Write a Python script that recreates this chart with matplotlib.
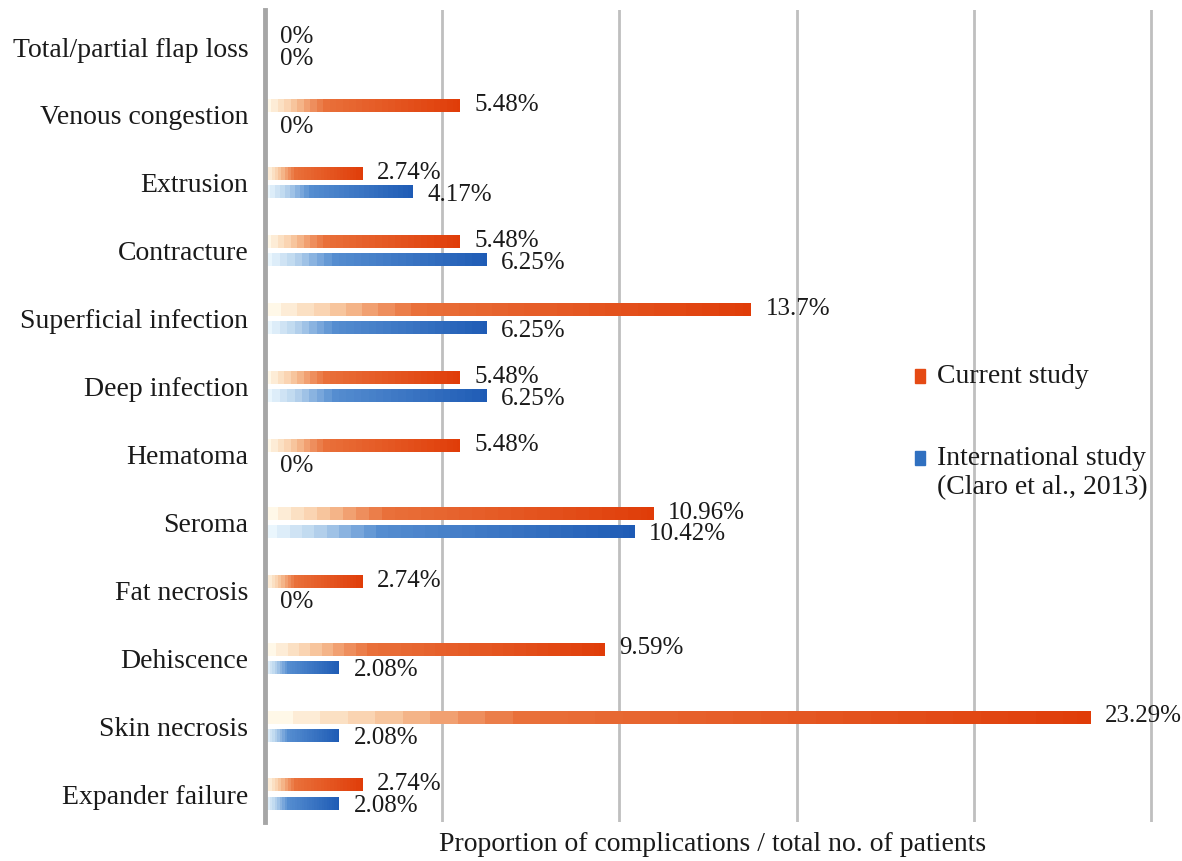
import numpy as np
import matplotlib
matplotlib.use("Agg")
import matplotlib.pyplot as plt
from matplotlib.colors import LinearSegmentedColormap
from matplotlib.patches import Rectangle

plt.rcParams['font.family'] = ['Liberation Serif', 'DejaVu Serif']

# data (top to bottom)
categories = ["Total/partial flap loss", "Venous congestion", "Extrusion", "Contracture",
              "Superficial infection", "Deep infection", "Hematoma", "Seroma",
              "Fat necrosis", "Dehiscence", "Skin necrosis", "Expander failure"]
current = [0, 5.48, 2.74, 5.48, 13.7, 5.48, 5.48, 10.96, 2.74, 9.59, 23.29, 2.74]
international = [0, 0, 4.17, 6.25, 6.25, 6.25, 0, 10.42, 0, 2.08, 2.08, 2.08]
current_labels = ["0%", "5.48%", "2.74%", "5.48%", "13.7%", "5.48%", "5.48%",
                  "10.96%", "2.74%", "9.59%", "23.29%", "2.74%"]
intl_labels = ["0%", "0%", "4.17%", "6.25%", "6.25%", "6.25%", "0%",
               "10.42%", "0%", "2.08%", "2.08%", "2.08%"]

orange_cmap = LinearSegmentedColormap.from_list("org", [
    (0.0, "#FFF8E8"), (0.12, "#F9CDA6"), (0.24, "#EE8A58"),
    (0.3, "#E9703A"), (1.0, "#E03C08")])
blue_cmap = LinearSegmentedColormap.from_list("blu", [
    (0.0, "#EAF6FD"), (0.12, "#BAD5EE"), (0.24, "#73A3DA"),
    (0.3, "#558DD0"), (1.0, "#1E5BB5")])

fig = plt.figure(figsize=(11.82, 8.61), dpi=100)
ax = fig.add_axes([0.2242, 0.0453, 0.757, 0.9431])

n = len(categories)
y = np.arange(n)
h = 0.19
off = 0.135
xmax = 25.25

def grad_bar(yc, val, cmap):
    if val <= 0:
        return
    steps = np.linspace(0, 1, 60)
    steps = np.floor(steps * 30) / 30  # stepped look
    ax.imshow(steps[np.newaxis, :], cmap=cmap, aspect='auto',
              extent=(0, val, yc + h / 2, yc - h / 2), zorder=2,
              interpolation='nearest', vmin=0, vmax=1)

for i in range(n):
    grad_bar(y[i] - off, current[i], orange_cmap)
    grad_bar(y[i] + off, international[i], blue_cmap)
    ax.text(current[i] + 0.42, y[i] - off - 0.01, current_labels[i],
            va='center', ha='left', fontsize=18, color='#1a1a1a', zorder=3)
    ax.text(international[i] + 0.42, y[i] + off + 0.04, intl_labels[i],
            va='center', ha='left', fontsize=18, color='#1a1a1a', zorder=3)

ax.set_xlim(0, xmax)
ax.set_ylim(11.41, -0.545)
ax.set_yticks(y)
ax.set_yticklabels(categories, fontsize=20, color='#1a1a1a')
ax.set_xticks([5, 10, 15, 20, 25])
ax.set_xticklabels([])
ax.tick_params(length=0)
ax.tick_params(axis='y', pad=12)
ax.grid(axis='x', color='#BFBFBF', linewidth=2, zorder=0)
ax.set_axisbelow(True)
for s in ['top', 'right', 'bottom']:
    ax.spines[s].set_visible(False)
ax.spines['left'].set_color('#A6A6A6')
ax.spines['left'].set_linewidth(3.5)
ax.set_xlabel("Proportion of complications / total no. of patients",
              fontsize=20, color='#1a1a1a', labelpad=4)

# legend drawn at right
leg_items = [("Current study", "#E54A14", 376),
             ("International study\n(Claro et al., 2013)", "#3070C0", 458)]
for label, col, py in leg_items:
    yf = 1 - py / 861
    fig.patches.append(Rectangle((915 / 1182, yf - 7 / 861), 10 / 1182, 14 / 861,
                                 transform=fig.transFigure, color=col, zorder=5))
    fig.text(937 / 1182, yf + 12 / 861, label, fontsize=20, va='top', ha='left',
             color='#1a1a1a', linespacing=1.2)

fig.savefig("out.png", dpi=100)
